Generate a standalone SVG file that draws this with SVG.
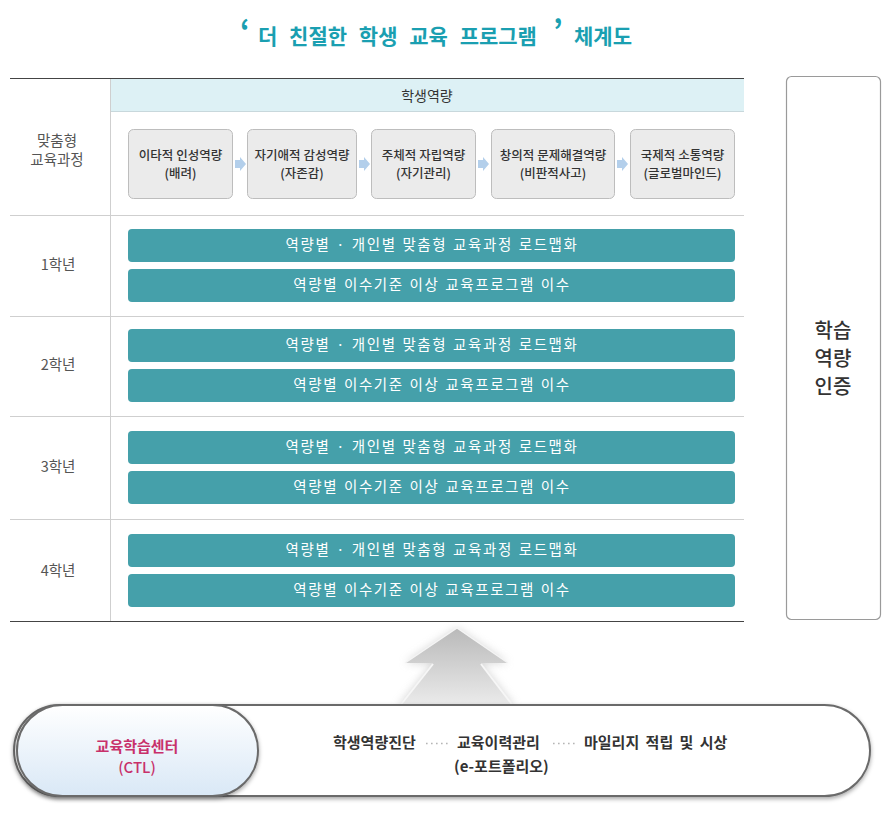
<svg xmlns="http://www.w3.org/2000/svg" width="884" height="821" viewBox="0 0 884 821">
<style>
text{font-family:"Noto Sans CJK KR","Noto Sans",sans-serif;}
.title{fill:#1a9fb1;font-weight:bold;}
.lbl{font-size:14.5px;fill:#555;text-anchor:middle;}
.comp{fill:#ebebeb;stroke:#bdbdbd;stroke-width:1;}
.ct{font-size:12.5px;fill:#333;text-anchor:middle;font-weight:500;}
.bar{fill:#45a0aa;}
.bt{font-size:14.5px;fill:#fff;text-anchor:middle;letter-spacing:1.6px;word-spacing:1px;}
.sep{stroke:#cfcfcf;stroke-width:1;}
.bt2{font-size:15px;fill:#333;font-weight:bold;}
.dots{stroke:#b5b5b5;stroke-width:1.6;stroke-dasharray:1.6 3.4;}
</style>
<defs>
<linearGradient id="pillg" x1="0" y1="0" x2="0" y2="1">
<stop offset="0" stop-color="#ffffff"/>
<stop offset="1" stop-color="#d9e8f6"/>
</linearGradient>
<linearGradient id="arrg" x1="0" y1="0" x2="0" y2="1">
<stop offset="0" stop-color="#b9b9b9"/>
<stop offset="1" stop-color="#ececec"/>
</linearGradient>
<filter id="sh" x="-10%" y="-20%" width="120%" height="150%">
<feDropShadow dx="0" dy="2" stdDeviation="2" flood-color="#000" flood-opacity="0.35"/>
</filter>
<filter id="glow" x="-30%" y="-30%" width="160%" height="160%">
<feGaussianBlur stdDeviation="4"/>
</filter>
</defs>
<rect width="884" height="821" fill="#fff"/>

<g id="title">
<text class="title" x="240" y="42" font-size="30">‘</text>
<text class="title" x="258" y="44" font-size="21" word-spacing="7">더 친절한 학생 교육 프로그램</text>
<text class="title" x="553" y="42" font-size="30">’</text>
<text class="title" x="574" y="44" font-size="21">체계도</text>
</g>

<g id="table">
<rect x="110" y="79" width="634" height="32" fill="#ddf1f5"/>
<line x1="110" y1="111.5" x2="744" y2="111.5" stroke="#c8d8dc"/>
<line x1="10" y1="78.5" x2="744" y2="78.5" stroke="#444" stroke-width="1.2"/>
<line x1="110.5" y1="79" x2="110.5" y2="621" stroke="#cfcfcf"/>
<line class="sep" x1="10" y1="215.5" x2="744" y2="215.5"/>
<line class="sep" x1="10" y1="316.5" x2="744" y2="316.5"/>
<line class="sep" x1="10" y1="416.5" x2="744" y2="416.5"/>
<line class="sep" x1="10" y1="519.5" x2="744" y2="519.5"/>
<line x1="10" y1="621.5" x2="744" y2="621.5" stroke="#444" stroke-width="1.2"/>
<text x="427" y="101" font-size="14" fill="#333" text-anchor="middle">학생역량</text>
<text class="lbl" x="57" y="146">맞춤형</text>
<text class="lbl" x="57" y="165">교육과정</text>
<text class="lbl" x="58" y="270">1학년</text>
<text class="lbl" x="58" y="370">2학년</text>
<text class="lbl" x="58" y="472">3학년</text>
<text class="lbl" x="58" y="576">4학년</text>
</g>

<g id="comp1"><rect class="comp" x="128.5" y="129.5" width="104" height="69" rx="5"/>
<text class="ct" x="180.5" y="160">이타적 인성역량</text><text class="ct" x="180.5" y="178">(배려)</text></g>
<g id="comp2"><rect class="comp" x="247.5" y="129.5" width="109" height="69" rx="5"/>
<text class="ct" x="302" y="160">자기애적 감성역량</text><text class="ct" x="302" y="178">(자존감)</text></g>
<g id="comp3"><rect class="comp" x="371.5" y="129.5" width="104" height="69" rx="5"/>
<text class="ct" x="423.5" y="160">주체적 자립역량</text><text class="ct" x="423.5" y="178">(자기관리)</text></g>
<g id="comp4"><rect class="comp" x="491.5" y="129.5" width="123" height="69" rx="5"/>
<text class="ct" x="553" y="160">창의적 문제해결역량</text><text class="ct" x="553" y="178">(비판적사고)</text></g>
<g id="comp5"><rect class="comp" x="630.5" y="129.5" width="104" height="69" rx="5"/>
<text class="ct" x="682.5" y="160">국제적 소통역량</text><text class="ct" x="682.5" y="178">(글로벌마인드)</text></g>

<g id="connectors" fill="#b3cfeb">
<polygon points="235,160 240,160 240,157 246,164 240,171 240,168 235,168"/>
<polygon points="359,160 364,160 364,157 370,164 364,171 364,168 359,168"/>
<polygon points="478,160 483,160 483,157 489,164 483,171 483,168 478,168"/>
<polygon points="617,160 622,160 622,157 628,164 622,171 622,168 617,168"/>
</g>

<g id="year1">
<rect class="bar" x="128" y="229" width="607" height="33" rx="4"/>
<text class="bt" x="432" y="250">역량별 · 개인별 맞춤형 교육과정 로드맵화</text>
<rect class="bar" x="128" y="269" width="607" height="33" rx="4"/>
<text class="bt" x="432" y="290">역량별 이수기준 이상 교육프로그램 이수</text>
</g>
<g id="year2">
<rect class="bar" x="128" y="329" width="607" height="33" rx="4"/>
<text class="bt" x="432" y="350">역량별 · 개인별 맞춤형 교육과정 로드맵화</text>
<rect class="bar" x="128" y="369" width="607" height="33" rx="4"/>
<text class="bt" x="432" y="390">역량별 이수기준 이상 교육프로그램 이수</text>
</g>
<g id="year3">
<rect class="bar" x="128" y="431" width="607" height="33" rx="4"/>
<text class="bt" x="432" y="452">역량별 · 개인별 맞춤형 교육과정 로드맵화</text>
<rect class="bar" x="128" y="471" width="607" height="33" rx="4"/>
<text class="bt" x="432" y="492">역량별 이수기준 이상 교육프로그램 이수</text>
</g>
<g id="year4">
<rect class="bar" x="128" y="534" width="607" height="33" rx="4"/>
<text class="bt" x="432" y="555">역량별 · 개인별 맞춤형 교육과정 로드맵화</text>
<rect class="bar" x="128" y="574" width="607" height="33" rx="4"/>
<text class="bt" x="432" y="595">역량별 이수기준 이상 교육프로그램 이수</text>
</g>

<g id="cert">
<rect x="786.5" y="76.5" width="94" height="543" rx="5" fill="#fff" stroke="#9a9a9a" stroke-width="1.2"/>
<text x="833" y="338" font-size="20" fill="#333" text-anchor="middle" font-weight="500">학습</text>
<text x="833" y="366" font-size="20" fill="#333" text-anchor="middle" font-weight="500">역량</text>
<text x="833" y="394" font-size="20" fill="#333" text-anchor="middle" font-weight="500">인증</text>
</g>

<g id="uparrow">
<polygon points="457,628 508,663 481,663 515,707 398,707 433,663 405,663" fill="#c9c9c9" filter="url(#glow)" opacity="0.8"/>
<polygon points="457,628 508,663 481,663 515,707 398,707 433,663 405,663" fill="url(#arrg)"/>
<polyline points="405,663 457,628 508,663" fill="none" stroke="#f4f4f4" stroke-width="1.5"/>
<line x1="433" y1="664" x2="399" y2="707" stroke="#f6f6f6" stroke-width="2"/>
<line x1="481" y1="664" x2="514" y2="707" stroke="#f6f6f6" stroke-width="2"/>
</g>

<g id="base">
<rect x="14" y="705" width="856" height="91" rx="45.5" fill="#fff" stroke="#6b6b6b" stroke-width="2" filter="url(#sh)"/>
<text class="bt2" x="333" y="748">학생역량진단</text>
<line class="dots" x1="426" y1="743.5" x2="451" y2="743.5"/>
<text class="bt2" x="457" y="748">교육이력관리</text>
<line class="dots" x1="553" y1="743.5" x2="578" y2="743.5"/>
<text class="bt2" x="584" y="748" word-spacing="3">마일리지 적립 및 시상</text>
<text class="bt2" x="454" y="772">(e-포트폴리오)</text>
</g>

<g id="ctl">
<rect x="17" y="705" width="241" height="91" rx="45.5" fill="url(#pillg)" stroke="#6b6b6b" stroke-width="2" filter="url(#sh)"/>
<text x="137" y="752" font-size="15" fill="#c8316a" text-anchor="middle" font-weight="bold">교육학습센터</text>
<text x="137" y="773" font-size="15" fill="#c8316a" text-anchor="middle" font-weight="500">(CTL)</text>
</g>
</svg>
